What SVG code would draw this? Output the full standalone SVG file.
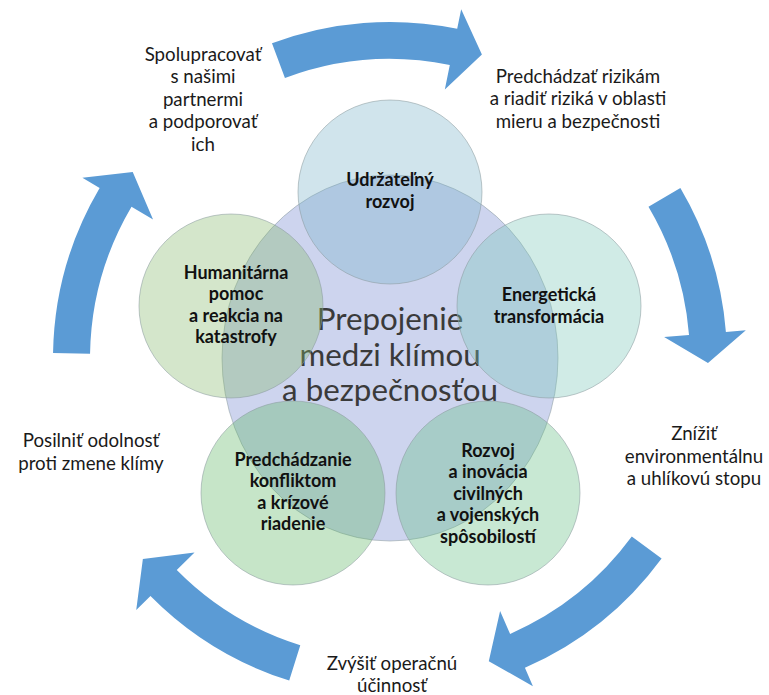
<svg xmlns="http://www.w3.org/2000/svg" width="769" height="695" viewBox="0 0 769 695">
<style>
.arrow{fill:#5b9bd5;}
.ring{stroke:#8a9a9e;stroke-opacity:0.55;stroke-width:1;}
.lbl{font-family:Lato,"Liberation Sans",sans-serif;font-size:18px;font-weight:bold;fill:#111;text-anchor:middle;}
.out{font-family:Lato,"Liberation Sans",sans-serif;font-size:18.7px;fill:#1a1a1a;text-anchor:middle;}
.ctr{font-family:Lato,"Liberation Sans",sans-serif;font-size:31.3px;fill:#3a3a3a;text-anchor:middle;}
</style>
<rect width="769" height="695" fill="#ffffff"/>
<g id="connectors">
<path class="arrow" d="M53.05,353.12 A337,337 0 0 1 99.63,187.96 L82.40,177.81 L132.73,172.08 L153.05,219.43 L131.51,206.74 A300,300 0 0 0 90.05,353.76 Z"/>
<path class="arrow" d="M271.98,43.34 A337,337 0 0 1 457.19,28.77 L461.18,9.17 L481.91,54.57 L444.83,89.52 L449.81,65.02 A300,300 0 0 0 284.94,78.00 Z"/>
<path class="arrow" d="M680.37,187.96 A337,337 0 0 1 725.91,331.97 L745.85,330.37 L707.98,362.89 L664.11,336.94 L689.03,334.94 A300,300 0 0 0 648.49,206.74 Z"/>
<path class="arrow" d="M661.60,558.51 A337,337 0 0 1 524.92,667.81 L532.92,686.14 L488.80,661.27 L500.10,611.00 L510.11,633.91 A300,300 0 0 0 631.78,536.60 Z"/>
<path class="arrow" d="M289.22,680.58 A337,337 0 0 1 150.46,596.04 L136.24,610.11 L142.87,559.12 L194.53,552.43 L176.76,570.02 A300,300 0 0 0 300.29,645.27 Z"/>
</g>
<g id="center">
<ellipse cx="390" cy="358" rx="168" ry="183" fill="#cdd4ee" class="ring"/>
<text class="ctr" x="390" y="330">Prepojenie</text>
<text class="ctr" x="390" y="365.5">medzi klímou</text>
<text class="ctr" x="390" y="401">a bezpečnosťou</text>
</g>
<g id="n-udrzatelny">
<circle cx="390" cy="192" r="92" fill="#79b2c9" fill-opacity="0.35" class="ring"/>
<text class="lbl" x="390" y="186">Udržateľný</text>
<text class="lbl" x="390" y="207.5">rozvoj</text>
</g>
<g id="n-energeticka">
<circle cx="549" cy="306" r="92" fill="#79c6b8" fill-opacity="0.35" class="ring"/>
<text class="lbl" x="549" y="300.5">Energetická</text>
<text class="lbl" x="549" y="322.5">transformácia</text>
</g>
<g id="n-humanitarna">
<circle cx="231" cy="306" r="92" fill="#84b86a" fill-opacity="0.35" class="ring"/>
<text class="lbl" x="236" y="278.5">Humanitárna</text>
<text class="lbl" x="236" y="300">pomoc</text>
<text class="lbl" x="236" y="321.5">a reakcia na</text>
<text class="lbl" x="236" y="343">katastrofy</text>
</g>
<g id="n-predchadzanie">
<circle cx="293" cy="493" r="92" fill="#5cb562" fill-opacity="0.35" class="ring"/>
<text class="lbl" x="293" y="465.5">Predchádzanie</text>
<text class="lbl" x="293" y="487">konfliktom</text>
<text class="lbl" x="293" y="508.5">a krízové</text>
<text class="lbl" x="293" y="530">riadenie</text>
</g>
<g id="n-rozvoj">
<circle cx="488" cy="493" r="92" fill="#62be81" fill-opacity="0.35" class="ring"/>
<text class="lbl" x="488" y="456.5">Rozvoj</text>
<text class="lbl" x="488" y="478">a inovácia</text>
<text class="lbl" x="488" y="499.5">civilných</text>
<text class="lbl" x="488" y="521">a vojenských</text>
<text class="lbl" x="488" y="542.5">spôsobilostí</text>
</g>
<g id="outer-labels">
<text class="out" x="203" y="60.5">Spolupracovať</text>
<text class="out" x="203" y="83">s našimi</text>
<text class="out" x="203" y="105.5">partnermi</text>
<text class="out" x="203" y="128">a podporovať</text>
<text class="out" x="203" y="150.5">ich</text>
<text class="out" x="578" y="82.5">Predchádzať rizikám</text>
<text class="out" x="578" y="105">a riadiť riziká v oblasti</text>
<text class="out" x="578" y="127.5">mieru a bezpečnosti</text>
<text class="out" x="694" y="439.5">Znížiť</text>
<text class="out" x="694" y="462.5">environmentálnu</text>
<text class="out" x="694" y="485">a uhlíkovú stopu</text>
<text class="out" x="91" y="446.5">Posilniť odolnosť</text>
<text class="out" x="91" y="470">proti zmene klímy</text>
<text class="out" x="392" y="669.5">Zvýšiť operačnú</text>
<text class="out" x="392" y="692">účinnosť</text>
</g>
</svg>
